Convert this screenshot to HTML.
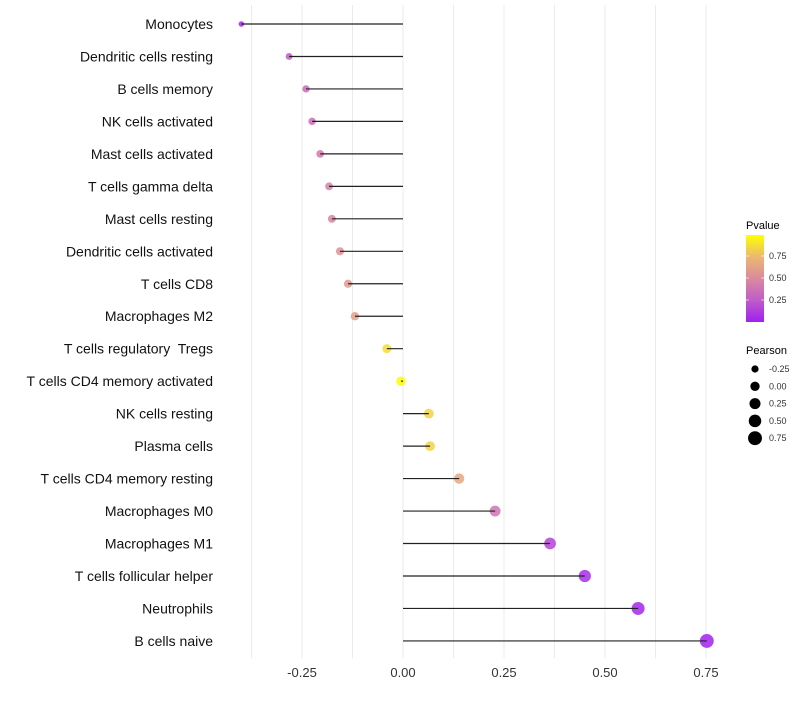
<!DOCTYPE html>
<html><head><meta charset="utf-8"><style>
body{margin:0;background:#fff;font-family:"Liberation Sans",sans-serif}
</style></head><body>
<svg id="c" width="800" height="700" xmlns="http://www.w3.org/2000/svg"></svg>
<script>
const categories=["Monocytes","Dendritic cells resting","B cells memory","NK cells activated","Mast cells activated","T cells gamma delta","Mast cells resting","Dendritic cells activated","T cells CD8","Macrophages M2","T cells regulatory  Tregs","T cells CD4 memory activated","NK cells resting","Plasma cells","T cells CD4 memory resting","Macrophages M0","Macrophages M1","T cells follicular helper","Neutrophils","B cells naive"];
const pearson=[-0.40,-0.282,-0.24,-0.225,-0.205,-0.183,-0.176,-0.156,-0.136,-0.119,-0.04,-0.005,0.064,0.067,0.139,0.228,0.364,0.45,0.582,0.752];
const pvalues=[0.05,0.25,0.33,0.36,0.4,0.45,0.47,0.53,0.58,0.62,0.88,0.99,0.84,0.84,0.66,0.38,0.15,0.06,0.02,0.01];
const xTicks=[-0.25,0,0.25,0.5,0.75];
const xTickLabels=["-0.25","0.00","0.25","0.50","0.75"];
const xMinor=[-0.375,-0.125,0.125,0.375,0.625];
const cbTicks=[0.25,0.5,0.75];
const sizeTicks=[-0.25,0,0.25,0.5,0.75];
const NS="http://www.w3.org/2000/svg";
const svg=document.getElementById('c');
const X=v=>403+v*404;
const Y=i=>24+i*32.47;
const R=v=>Math.sqrt(Math.max(2,7.8+35*(v+0.4)));
const stops=[[0,[160,32,240]],[0.25,[192,92,200]],[0.5,[218,138,158]],[0.75,[236,184,112]],[1,[255,255,0]]];
function col(p){for(let i=1;i<stops.length;i++){if(p<=stops[i][0]){const a=stops[i-1],b=stops[i];const t=(p-a[0])/(b[0]-a[0]);return 'rgb('+a[1].map((c,k)=>Math.round(c+(b[1][k]-c)*t)).join(',')+')';}}return 'rgb(255,255,0)';}
function el(t,a,p){const e=document.createElementNS(NS,t);for(const k in a)e.setAttribute(k,a[k]);(p||svg).appendChild(e);return e;}
[...xTicks,...xMinor].forEach(v=>{const g=el('line',{x1:X(v),x2:X(v),y1:5,y2:658,stroke:'#ebebeb','stroke-width':1});

});
xTicks.forEach((v,i)=>{const t=el('text',{x:X(v),y:677,'text-anchor':'middle','font-size':13,fill:'#333'});t.textContent=xTickLabels[i];

});
categories.forEach((c,i)=>{
const t=el('text',{x:213,y:Y(i)+5,'text-anchor':'end','font-size':14,fill:'#111',style:'white-space:pre'});t.textContent=c;


const d=el('circle',{cx:X(pearson[i]),cy:Y(i),r:R(pearson[i]),fill:col(pvalues[i]),'fill-opacity':0.85});


const l=el('line',{x1:X(0),x2:X(pearson[i]),y1:Y(i),y2:Y(i),stroke:'#222','stroke-width':1.2});


});
const defs=el('defs',{});const lg=el('linearGradient',{id:'g',x1:0,y1:1,x2:0,y2:0},defs);
stops.forEach(s=>el('stop',{offset:s[0],'stop-color':col(s[0])},lg));
const lt=el('text',{x:746,y:229,'font-size':11,fill:'#000'});lt.textContent='Pvalue';


const cb=el('rect',{x:746,y:235,width:18,height:87,fill:'url(#g)'});


const cy=p=>322-p*88;
cbTicks.forEach(p=>{const t=el('text',{x:769,y:cy(p)+3,'font-size':9,fill:'#333'});t.textContent=p.toFixed(2);


el('line',{x1:746,x2:749,y1:cy(p),y2:cy(p),stroke:'#fff','stroke-opacity':0.6});el('line',{x1:761,x2:764,y1:cy(p),y2:cy(p),stroke:'#fff','stroke-opacity':0.6});});
const st=el('text',{x:746,y:354,'font-size':11,fill:'#000'});st.textContent='Pearson';


sizeTicks.forEach((v,i)=>{const y=369+i*17.3;
const d=el('circle',{cx:755,cy:y,r:R(v),fill:'#000'});


const t=el('text',{x:769,y:y+3,'font-size':9,fill:'#333'});t.textContent=v.toFixed(2);

});
</script>
</body></html>
